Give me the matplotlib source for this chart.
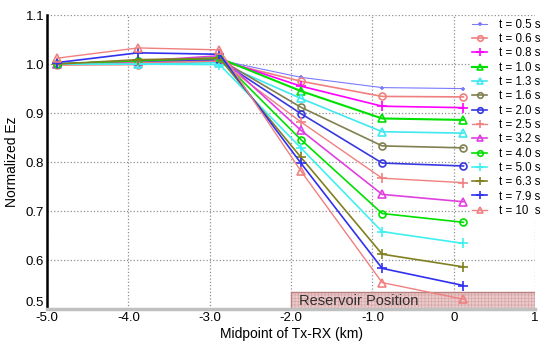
import matplotlib.pyplot as plt
from matplotlib.patches import Rectangle

plt.rcParams['font.family'] = ['Liberation Sans', 'DejaVu Sans']
plt.rcParams['hatch.linewidth'] = 0.5

# midpoint positions (km)
xs = [-4.88, -3.88, -2.88, -1.88, -0.88, 0.12]

labels = ['t = 0.5 s', 't = 0.6 s', 't = 0.8 s', 't = 1.0 s', 't = 1.3 s',
          't = 1.6 s', 't = 2.0 s', 't = 2.5 s', 't = 3.2 s', 't = 4.0 s',
          't = 5.0 s', 't = 6.3 s', 't = 7.9 s', 't = 10  s']

# normalized Ez for each time gate
ez_05 = [1.000, 1.003, 1.008, 0.973, 0.952, 0.950]
ez_06 = [0.998, 0.999, 1.006, 0.965, 0.934, 0.933]
ez_08 = [1.000, 1.005, 1.010, 0.955, 0.914, 0.911]
ez_10 = [1.000, 1.006, 1.012, 0.945, 0.889, 0.886]
ez_13 = [1.000, 1.000, 1.003, 0.930, 0.862, 0.859]
ez_16 = [1.000, 1.007, 1.010, 0.912, 0.833, 0.829]
ez_20 = [1.000, 1.004, 1.008, 0.899, 0.798, 0.792]
ez_25 = [1.000, 1.003, 1.006, 0.882, 0.767, 0.758]
ez_32 = [1.000, 1.006, 1.017, 0.865, 0.734, 0.719]
ez_40 = [1.000, 1.007, 1.012, 0.846, 0.695, 0.677]
ez_50 = [1.000, 1.000, 0.999, 0.829, 0.658, 0.634]
ez_63 = [1.000, 1.009, 1.012, 0.810, 0.612, 0.586]
ez_79 = [1.003, 1.023, 1.020, 0.798, 0.583, 0.548]
ez_100 = [1.012, 1.033, 1.029, 0.782, 0.554, 0.520]

series = [ez_05, ez_06, ez_08, ez_10, ez_13, ez_16, ez_20,
          ez_25, ez_32, ez_40, ez_50, ez_63, ez_79, ez_100]

colors = ['#7a7aff', '#f08080', '#ff00ff', '#00e000', '#40e8f0', '#808050',
          '#3838e0', '#f08080', '#e040e0', '#00e000', '#40f0f0', '#808020',
          '#3030f0', '#f08080']
markers = ['+', 'o', '+', '^', '^', 'o', 'o', '+', '^', 'o', '+', '+', '+', '^']
msizes = [3.5, 5, 6.5, 6, 6, 5, 5, 6.5, 6, 5, 6.5, 6.5, 6.5, 6]
lws = [0.8, 1.2, 1.2, 1.5, 1.2, 1.2, 1.2, 1.0, 1.2, 1.2, 1.2, 1.2, 1.2, 1.0]

fig = plt.figure(figsize=(5.41, 3.43), dpi=100)
ax = fig.add_axes([0.087, 0.099, 0.902, 0.857])

ax.add_patch(Rectangle((-2.0, 0.5), 3.0, 0.035, facecolor='#eccaca',
                       edgecolor='#d6a8a8', hatch='+++++', linewidth=0, zorder=1))
ax.add_patch(Rectangle((-2.0, 0.5), 3.0, 0.035, facecolor='none',
                       edgecolor='#b88080', linewidth=1.0, zorder=1))
ax.text(-1.9, 0.517, 'Reservoir Position', fontsize=10.5, color='#303030',
        va='center', zorder=2)

for ys, lab, c, m, ms, lw in zip(series, labels, colors, markers, msizes, lws):
    fill = 'none' if m in ('o', '^') else 'full'
    ax.plot(xs, ys, color=c, marker=m, markersize=ms, linewidth=lw,
            fillstyle=fill, markeredgewidth=1.2, label=lab, zorder=3)

ax.set_xlim(-5, 1)
ax.set_ylim(0.5, 1.1)
ax.set_xticks([-5, -4, -3, -2, -1, 0, 1])
ax.set_xticklabels(['-5.0', '-4.0', '-3.0', '-2.0', '-1.0', '0', '1'])
ax.set_yticks([0.5, 0.6, 0.7, 0.8, 0.9, 1.0, 1.1])
ax.set_yticklabels(['0.5', '0.6', '0.7', '0.8', '0.9', '1.0', '1.1'])
ax.get_yticklabels()[0].set_va('bottom')
ax.tick_params(length=0, labelsize=9.5, pad=2)
ax.grid(True, linestyle=':', color='#909090', linewidth=0.9)
ax.set_axisbelow(True)
ax.spines['right'].set_visible(False)
ax.spines['top'].set_visible(False)
ax.spines['left'].set_linewidth(1.8)
ax.spines['bottom'].set_color('#c0c0c0')
ax.spines['bottom'].set_linewidth(2.5)

ax.set_xlabel('Midpoint of Tx-RX (km)', fontsize=10, labelpad=2)
ax.set_ylabel('Normalized Ez', fontsize=10, labelpad=5)

leg = ax.legend(loc='upper left', bbox_to_anchor=(0.867, 0.995), frameon=True,
                fontsize=8.3, handlelength=1.3, labelspacing=0.2,
                borderaxespad=0, handletextpad=1.0, borderpad=0.2,
                markerscale=0.8, facecolor='white', edgecolor='none',
                framealpha=1.0, fancybox=False)

fig.savefig('out.png', dpi=100)
